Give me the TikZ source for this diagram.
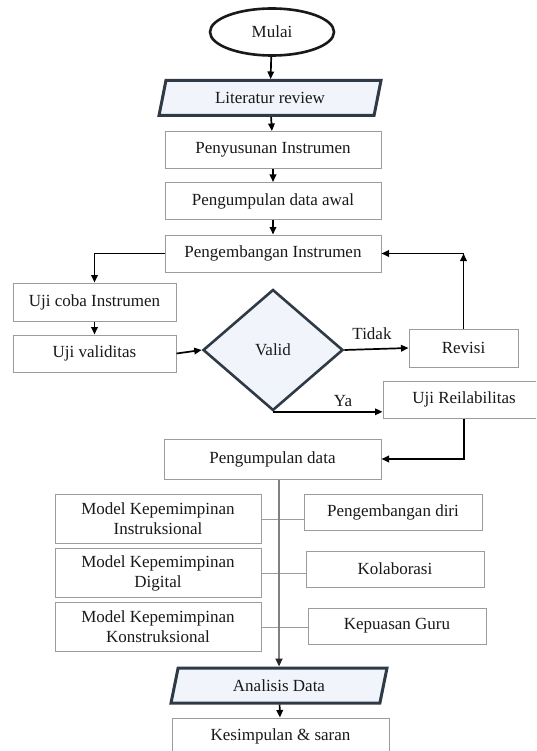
\documentclass[tikz,border=0pt]{standalone}
\usepackage{fontspec}
\setmainfont{Liberation Serif}
\usetikzlibrary{shapes.geometric}
\usetikzlibrary{arrows.meta}
\usetikzlibrary{calc}
\definecolor{edgegray}{HTML}{9C9C9C}
\definecolor{framedark}{HTML}{2F3A46}
\definecolor{paleblue}{HTML}{F1F5FB}
\tikzset{
  box/.style={draw=edgegray, line width=1pt, fill=white, minimum width=216pt,
    minimum height=37pt, inner sep=2pt, align=center, text=black!90},
  terminal/.style={ellipse, draw=black!90, line width=2.6pt, fill=white,
    minimum width=124pt, minimum height=47pt, text=black!90},
  io/.style={trapezium, trapezium left angle=73, trapezium right angle=107,
    trapezium stretches body, draw=framedark, line width=3pt, fill=paleblue,
    minimum width=222pt, minimum height=35pt, text=black!90},
  decision/.style={diamond, draw=framedark, line width=2.6pt, fill=paleblue,
    minimum width=140pt, minimum height=121pt, inner sep=0pt, text=black!90},
  flow/.style={line width=1.7pt, -{Triangle[length=7.5pt,width=6.5pt]}},
  link/.style={draw=edgegray, line width=1pt},
  trunk/.style={draw=gray, line width=2.6pt, -{Triangle[length=8pt,width=7pt,color=black!85]}},
  tag/.style={text=black!90}
}
\newcommand\modelrows{{Model Kepemimpinan\\Instruksional}/{Pengembangan diri},
  {Model Kepemimpinan\\Digital}/{Kolaborasi},
  {Model Kepemimpinan\\Konstruksional}/{Kepuasan Guru}}

\begin{document}
\begin{tikzpicture}[x=1pt,y=-1pt]
  \fontsize{17}{20}\selectfont
  \useasboundingbox[fill=white] (0,0) rectangle (536,751);
  \begin{scope}
    \clip (0,0) rectangle (536,751);

    % main column
    \node[terminal] (mulai) at (272,32) {Mulai};
    \node[io] (lit) at (270,98) {Literatur review};
    \node[box] (susun) at (273,150) {Penyusunan Instrumen};
    \node[box] (awal) at (273,201) {Pengumpulan data awal};
    \node[box] (kembang) at (273,253.5) {Pengembangan Instrumen};

    % test loop
    \node[box, minimum width=163pt, minimum height=38pt] (ujicoba) at (94.5,302) {Uji coba Instrumen};
    \node[box, minimum width=163pt] (ujivalid) at (94.5,353.5) {Uji validitas};
    \node[decision] (valid) at (273,350) {Valid};
    \node[box, minimum width=109pt, minimum height=38pt] (revisi) at (463.5,348) {Revisi};
    \node[box, minimum width=162pt] (ujirel) at (464,399.5) {Uji Reilabilitas};
    \node[box, minimum width=217pt, minimum height=40pt] (kumpul) at (272.5,459) {Pengumpulan data};

    \foreach \modeltext/\aspek [count=\i] in \modelrows {
      \node[box, minimum width=206pt, minimum height=49pt] (model\i) at (158,{519+54*(\i-1)}) {\modeltext};
      \node[box, minimum width=178pt, minimum height=36pt] (aspek\i) at ({391+2*\i},{512+57*(\i-1)}) {\aspek};
      \draw[link] (model\i.east) -- (model\i.east -| aspek\i.west);
    }

    \node[io, minimum width=216pt] (analisis) at (279,685.5) {Analisis Data};
    \node[box, minimum width=217pt, minimum height=36pt] (simpul) at (280.5,736) {Kesimpulan \& saran};

    % connectors
    \draw[flow] (mulai) -- (lit);
    \draw[flow] (lit) -- (susun);
    \draw[flow] (susun) -- (awal);
    \draw[flow] (awal) -- (kembang);
    \draw[flow] (kembang.west) -| (ujicoba.north);
    \draw[flow] (ujicoba) -- (ujivalid);
    \draw[flow] (ujivalid.east) -- (valid.west);
    \draw[flow] (valid.east) -- (revisi.west);
    \node[tag] (tidak) at (372,334) {Tidak};
    \coordinate (sudut) at (revisi.north |- kembang.east);
    \draw[flow] (revisi.north) -- (sudut);
    \draw[flow] (sudut) -- (kembang.east);
    \draw[flow] (valid.south) -- (valid.south -| ujirel.west);
    \node[tag] (ya) at (343,401) {Ya};
    \draw[flow] (ujirel.south) |- (kumpul.east);
    \draw[trunk] (analisis.north |- kumpul.south) -- (analisis.north);
    \draw[flow] (analisis) -- (simpul);

  \end{scope}
\end{tikzpicture}
\end{document}
